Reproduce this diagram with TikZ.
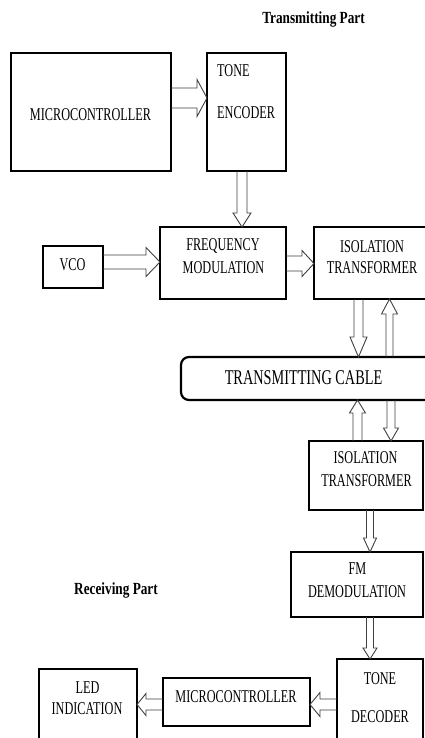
\documentclass[tikz,border=0pt]{standalone}
\usepackage{fontspec}
\usetikzlibrary{calc}
\newfontfamily\cf[FakeStretch=0.68]{Liberation Serif}
\newfontfamily\hf[FakeStretch=0.78]{Liberation Serif}
\tikzset{
  box/.style={draw=black, line width=2.2pt, inner sep=0pt, outer sep=0pt},
  arrline/.style={draw=black!75, line width=0.9pt, line join=miter},
  txt/.style={font=\cf\fontsize{18}{20}\selectfont, inner sep=0pt, anchor=base},
  bigtxt/.style={font=\cf\fontsize{21}{24}\selectfont, inner sep=0pt, anchor=base},
  ttl/.style={font=\hf\bfseries\fontsize{17}{20}\selectfont, inner sep=0pt, anchor=base},
}
% hollow block arrow: #1 start, #2 end, #3 shaft half width, #4 head half width, #5 head length
\newcommand\barr[5]{%
  \coordinate (hb) at ($(#2)!#5!(#1)$);
  \draw[arrline] ($(#1)!#3!90:(#2)$) -- ($(hb)!#3!90:(#2)$) -- ($(hb)!#4!90:(#2)$)
    -- (#2) -- ($(hb)!#4!-90:(#2)$) -- ($(hb)!#3!-90:(#2)$) -- ($(#1)!#3!-90:(#2)$);
}
\begin{document}
\begin{tikzpicture}[x=1pt,y=-1pt]
\useasboundingbox (0,0) rectangle (425,738);
\fill[white] (0,0) rectangle (425,738);

% boxes
\node[box, minimum width=160pt, minimum height=118pt] (mc1) at (91,112) {};
\node[box, minimum width=79pt, minimum height=118pt] (te) at (246.5,112) {};
\node[box, minimum width=60pt, minimum height=42pt] (vco) at (73,267) {};
\node[box, minimum width=126pt, minimum height=72pt] (fm) at (223,263) {};
\node[box, minimum width=116pt, minimum height=72pt] (iso1) at (372,263) {};
\node[box, rounded corners=8pt, minimum width=264pt, minimum height=43pt] (cable) at (313,378.5) {};
\node[box, minimum width=114pt, minimum height=69pt] (iso2) at (366,475.5) {};
\node[box, minimum width=132pt, minimum height=65pt] (fmd) at (357,584.5) {};
\node[box, minimum width=86pt, minimum height=111pt] (td) at (380,714.5) {};
\node[box, minimum width=147pt, minimum height=48pt] (mc2) at (236.5,702) {};
\node[box, minimum width=98pt, minimum height=101pt] (led) at (88,719.5) {};

% texts
\node[ttl] (t1) at (313.5,24) {Transmitting Part};
\node[ttl] (t2) at (116,594) {Receiving Part};
\node[txt] (l1) at (90.5,121) {MICROCONTROLLER};
\node[txt, anchor=base west] (l2) at (217,77) {TONE};
\node[txt, anchor=base west] (l3) at (217,119) {ENCODER};
\node[txt] (l4) at (72.5,270) {VCO};
\node[txt] (l5) at (223,250) {FREQUENCY};
\node[txt] (l6) at (223.5,273) {MODULATION};
\node[txt] (l7) at (372,252) {ISOLATION};
\node[txt] (l8) at (372,273) {TRANSFORMER};
\node[bigtxt] (l9) at (303.5,384) {TRANSMITTING CABLE};
\node[txt] (l10) at (365.5,463) {ISOLATION};
\node[txt] (l11) at (366.5,486) {TRANSFORMER};
\node[txt] (l12) at (357.5,574) {FM};
\node[txt] (l13) at (357,597) {DEMODULATION};
\node[txt] (l14) at (380,684) {TONE};
\node[txt] (l15) at (380,722) {DECODER};
\node[txt] (l16) at (236,702) {MICROCONTROLLER};
\node[txt] (l17) at (87.5,693) {LED};
\node[txt] (l18) at (87,714) {INDICATION};

% arrows
\barr{mc1.east |- 0,98}{te.west |- 0,98}{10pt}{18.5pt}{10pt}
\barr{242,0 |- te.south}{242,0 |- fm.north}{5pt}{9pt}{14pt}
\barr{vco.east |- 0,262}{fm.west |- 0,262}{7pt}{14.5pt}{14pt}
\barr{fm.east |- 0,263.5}{iso1.west |- 0,263.5}{7.5pt}{13pt}{12pt}
\barr{358.5,0 |- iso1.south}{358.5,0 |- cable.north}{4.5pt}{8.5pt}{20pt}
\barr{389.5,0 |- cable.north}{389.5,0 |- iso1.south}{3.5pt}{8pt}{15pt}
\barr{357.5,0 |- iso2.north}{357.5,0 |- cable.south}{4.5pt}{8pt}{13pt}
\barr{391,0 |- cable.south}{391,0 |- iso2.north}{4pt}{7.5pt}{13pt}
\barr{370,0 |- iso2.south}{370,0 |- fmd.north}{3.5pt}{6.5pt}{14pt}
\barr{370,0 |- fmd.south}{370,0 |- td.north}{3.5pt}{7pt}{11pt}
\barr{td.west |- 0,704.5}{mc2.east |- 0,704.5}{5.5pt}{12pt}{10pt}
\barr{mc2.west |- 0,704.5}{led.east |- 0,704.5}{5.5pt}{11pt}{9pt}
\end{tikzpicture}
\end{document}
